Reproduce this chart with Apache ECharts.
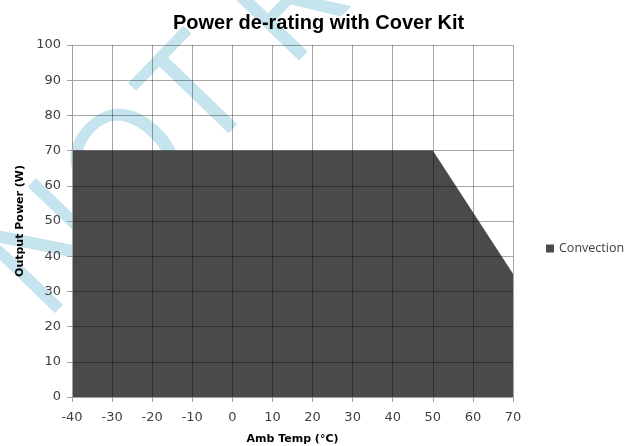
<!DOCTYPE html>
<html>
<head>
<meta charset="utf-8">
<script src="https://cdn.jsdelivr.net/npm/echarts@6/dist/echarts.min.js"></script>
<style>html,body{margin:0;padding:0;background:#fff}#c{width:626px;height:446px}</style>
</head>
<body>
<div id="c"></div>
<script>
const temps = [-40, 50, 70];
const powers = [70, 70, 35];
const xTicks = {min: -40, max: 70, interval: 10};
const yTicks = {min: 0, max: 100, interval: 10};
const seriesName = 'Convection';
const titleText = 'Power de-rating with Cover Kit';
const xName = 'Amb Temp (°C)';
const yName = 'Output Power (W)';
const watermark = 'NOT RECOMMENDED';

const chart = echarts.init(document.getElementById('c'), null, {renderer: 'canvas'});
const FONT = 'DejaVu Sans, Verdana, sans-serif';
const labelStyle = {color: '#404040', fontSize: 13, fontFamily: FONT};
chart.setOption({
  animation: false,
  backgroundColor: '#fff',
  title: {
    text: titleText, left: 168, top: 8,
    textStyle: {fontSize: 20, fontWeight: 'bold', color: '#000', fontFamily: 'Liberation Sans, Arial, sans-serif'}
  },
  graphic: [{
    type: 'text', z: -10, zlevel: 0,
    x: 68, y: 346, rotation: 46 * Math.PI / 180,
    style: {
      text: watermark, fill: '#c5e4ed',
      font: '400 150px "Open Sans", "DejaVu Sans", sans-serif',
      textAlign: 'left', textVerticalAlign: 'bottom'
    }
  }],
  legend: {
    data: [seriesName], orient: 'vertical', left: 541, top: 237,
    itemWidth: 8, itemHeight: 8, itemGap: 4, icon: 'rect',
    textStyle: {color: '#404040', fontSize: 12.5, fontFamily: 'Open Sans, DejaVu Sans, sans-serif'}
  },
  grid: {left: 72, right: 113, top: 45, bottom: 49, containLabel: false, outerBoundsMode: 'none'},
  xAxis: {
    type: 'value', min: xTicks.min, max: xTicks.max, interval: xTicks.interval, z: 5,
    name: xName, nameLocation: 'middle', nameGap: 37,
    nameTextStyle: {fontWeight: 'bold', fontSize: 11, color: '#000', fontFamily: FONT},
    axisLine: {show: true, onZero: false, lineStyle: {color: '#a0a0a0'}},
    axisTick: {show: true, length: 5, lineStyle: {color: '#a0a0a0'}},
    axisLabel: Object.assign({margin: 14}, labelStyle),
    splitLine: {show: true, lineStyle: {color: 'rgba(0,0,0,0.35)', width: 1}}
  },
  yAxis: {
    type: 'value', min: yTicks.min, max: yTicks.max, interval: yTicks.interval, z: 5,
    name: yName, nameLocation: 'middle', nameGap: 44, nameRotate: 90,
    nameTextStyle: {fontWeight: 'bold', fontSize: 11, color: '#000', fontFamily: FONT},
    axisLine: {show: true, onZero: false, lineStyle: {color: '#a0a0a0'}},
    axisTick: {show: true, length: 5, lineStyle: {color: '#a0a0a0'}},
    axisLabel: Object.assign({margin: 11}, labelStyle),
    splitLine: {show: true, lineStyle: {color: 'rgba(0,0,0,0.35)', width: 1}}
  },
  series: [{
    name: seriesName, type: 'line',
    data: temps.map((t, i) => [t, powers[i]]),
    showSymbol: false, symbol: 'none',
    itemStyle: {color: '#4a4a4a'},
    lineStyle: {width: 0, color: '#4a4a4a'},
    areaStyle: {color: '#4a4a4a', opacity: 1},
    z: 2
  }]
});
</script>
</body>
</html>
